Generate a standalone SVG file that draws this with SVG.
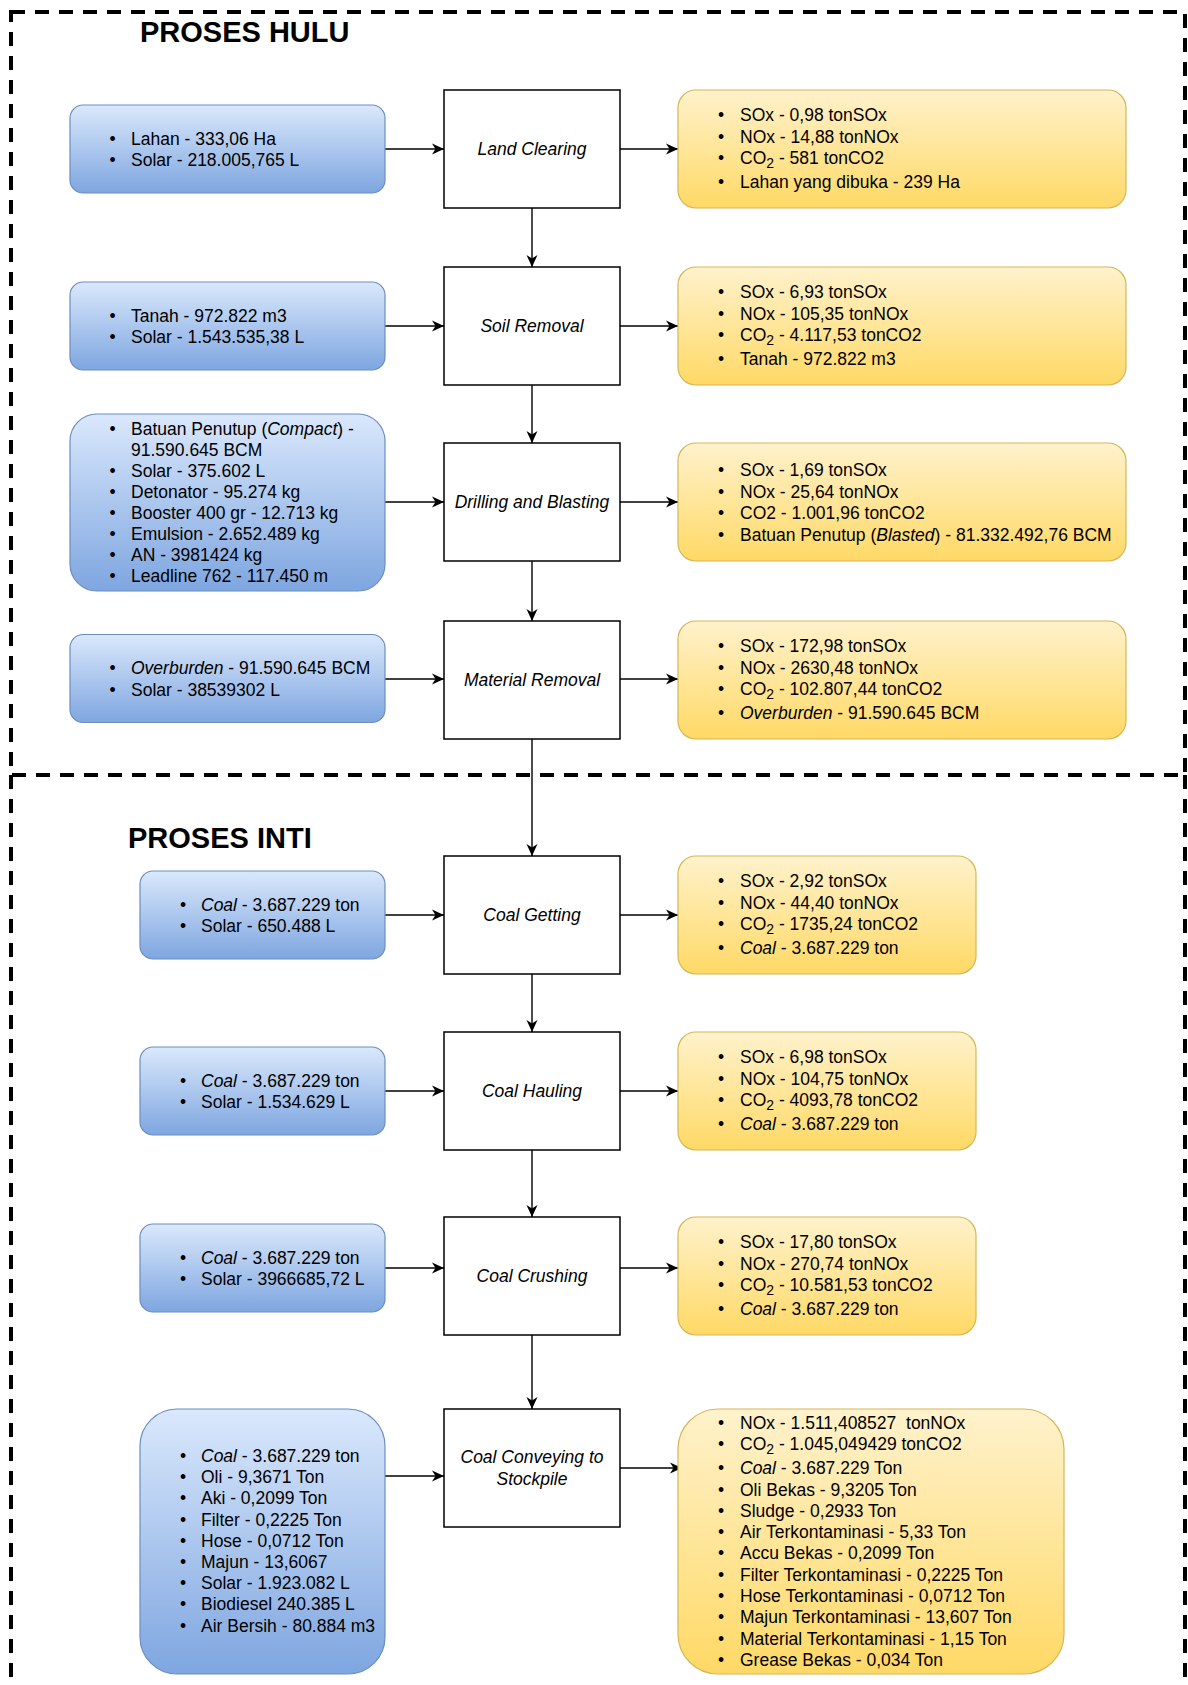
<svg xmlns="http://www.w3.org/2000/svg" width="1188" height="1685" viewBox="0 0 1188 1685">
<style>
.t{font-family:"Liberation Sans",Arial,Helvetica,sans-serif;font-size:17.5px;fill:#000}
.i{font-style:italic}
.h{font-family:"Liberation Sans",Arial,Helvetica,sans-serif;font-size:29px;font-weight:bold;fill:#000}
.pt{font-family:"Liberation Sans",Arial,Helvetica,sans-serif;font-size:17.5px;font-style:italic;text-anchor:middle;fill:#000}
.blue{fill:url(#gb);stroke:#6c8ebf;stroke-width:1.2}
.yel{fill:url(#gy);stroke:#d6b656;stroke-width:1.2}
.proc{fill:#fff;stroke:#000;stroke-width:1.5}
.c{fill:none;stroke:#000;stroke-width:1.4;marker-end:url(#arr)}
.frame{fill:none;stroke:#000;stroke-width:4;stroke-dasharray:14 10}
.sub{font-size:14px}
</style>
<defs>
<linearGradient id="gb" x1="0" y1="0" x2="0" y2="1"><stop offset="0" stop-color="#dae8fc"/><stop offset="1" stop-color="#7ea6e0"/></linearGradient>
<linearGradient id="gy" x1="0" y1="0" x2="0" y2="1"><stop offset="0" stop-color="#fff2cc"/><stop offset="1" stop-color="#ffd966"/></linearGradient>
<marker id="arr" markerUnits="userSpaceOnUse" markerWidth="13" markerHeight="12" refX="12" refY="6" orient="auto"><path d="M0,0.5 L12,6 L0,11.5 L3.5,6 Z" fill="#000"/></marker>
</defs>
<rect width="1188" height="1685" fill="#fff"/>

<g id="frames">
<rect class="frame" x="11" y="12" width="1174" height="763"/>
<path class="frame" d="M11,775 V1700 M1185,775 V1700"/>
</g>
<g id="titles">
<text class="h" x="140" y="42">PROSES HULU</text>
<text class="h" x="128" y="848">PROSES INTI</text>
</g>

<g id="connectors">
<path class="c" d="M385,149 H444"/>
<path class="c" d="M620,149 H678"/>
<path class="c" d="M532,208 V267"/>
<path class="c" d="M385,326 H444"/>
<path class="c" d="M620,326 H678"/>
<path class="c" d="M532,385 V443"/>
<path class="c" d="M385,502 H444"/>
<path class="c" d="M620,502 H678"/>
<path class="c" d="M532,561 V621"/>
<path class="c" d="M385,679 H444"/>
<path class="c" d="M620,679 H678"/>
<path class="c" d="M532,739 V856"/>
<path class="c" d="M385,915 H444"/>
<path class="c" d="M620,915 H678"/>
<path class="c" d="M532,974 V1032"/>
<path class="c" d="M385,1091 H444"/>
<path class="c" d="M620,1091 H678"/>
<path class="c" d="M532,1150 V1217"/>
<path class="c" d="M385,1268 H444"/>
<path class="c" d="M620,1268 H678"/>
<path class="c" d="M532,1335 V1409"/>
<path class="c" d="M385,1476 H444"/>
<path class="c" d="M620,1468 H682"/>
</g>

<!-- Row 1 -->
<g id="in-land-clearing">
<rect class="blue" x="70" y="105" width="315" height="88" rx="13"/>
<text class="t" y="144.5"><tspan x="109.5">•</tspan><tspan x="131">Lahan - 333,06 Ha</tspan></text>
<text class="t" y="166"><tspan x="109.5">•</tspan><tspan x="131">Solar - 218.005,765 L</tspan></text>
</g>
<g id="land-clearing">
<rect class="proc" x="444" y="90" width="176" height="118"/>
<text class="pt" x="532" y="155">Land Clearing</text>
</g>
<g id="out-land-clearing">
<rect class="yel" x="678" y="90" width="448" height="118" rx="18"/>
<text class="t" y="120.5"><tspan x="718">•</tspan><tspan x="740">SOx - 0,98 tonSOx</tspan></text>
<text class="t" y="142.5"><tspan x="718">•</tspan><tspan x="740">NOx - 14,88 tonNOx</tspan></text>
<text class="t" y="163.5"><tspan x="718">•</tspan><tspan x="740">CO</tspan><tspan class="sub" dy="4">2</tspan><tspan dy="-4"> - 581 tonCO2</tspan></text>
<text class="t" y="188"><tspan x="718">•</tspan><tspan x="740">Lahan yang dibuka - 239 Ha</tspan></text>
</g>

<!-- Row 2 -->
<g id="in-soil-removal">
<rect class="blue" x="70" y="282" width="315" height="88" rx="13"/>
<text class="t" y="321.5"><tspan x="109.5">•</tspan><tspan x="131">Tanah - 972.822 m3</tspan></text>
<text class="t" y="343"><tspan x="109.5">•</tspan><tspan x="131">Solar - 1.543.535,38 L</tspan></text>
</g>
<g id="soil-removal">
<rect class="proc" x="444" y="267" width="176" height="118"/>
<text class="pt" x="532" y="332">Soil Removal</text>
</g>
<g id="out-soil-removal">
<rect class="yel" x="678" y="267" width="448" height="118" rx="18"/>
<text class="t" y="297.5"><tspan x="718">•</tspan><tspan x="740">SOx - 6,93 tonSOx</tspan></text>
<text class="t" y="319.5"><tspan x="718">•</tspan><tspan x="740">NOx - 105,35 tonNOx</tspan></text>
<text class="t" y="340.5"><tspan x="718">•</tspan><tspan x="740">CO</tspan><tspan class="sub" dy="4">2</tspan><tspan dy="-4"> - 4.117,53 tonCO2</tspan></text>
<text class="t" y="365"><tspan x="718">•</tspan><tspan x="740">Tanah - 972.822 m3</tspan></text>
</g>

<!-- Row 3 -->
<g id="in-drilling">
<rect class="blue" x="70" y="414" width="315" height="177" rx="27"/>
<text class="t" y="435"><tspan x="109.5">•</tspan><tspan x="131">Batuan Penutup (</tspan><tspan class="i">Compact</tspan><tspan>) -</tspan></text>
<text class="t" x="131" y="456">91.590.645 BCM</text>
<text class="t" y="477"><tspan x="109.5">•</tspan><tspan x="131">Solar - 375.602 L</tspan></text>
<text class="t" y="498"><tspan x="109.5">•</tspan><tspan x="131">Detonator - 95.274 kg</tspan></text>
<text class="t" y="519"><tspan x="109.5">•</tspan><tspan x="131">Booster 400 gr - 12.713 kg</tspan></text>
<text class="t" y="540"><tspan x="109.5">•</tspan><tspan x="131">Emulsion - 2.652.489 kg</tspan></text>
<text class="t" y="561"><tspan x="109.5">•</tspan><tspan x="131">AN - 3981424 kg</tspan></text>
<text class="t" y="582"><tspan x="109.5">•</tspan><tspan x="131">Leadline 762 - 117.450 m</tspan></text>
</g>
<g id="drilling-blasting">
<rect class="proc" x="444" y="443" width="176" height="118"/>
<text class="pt" x="532" y="508">Drilling and Blasting</text>
</g>
<g id="out-drilling">
<rect class="yel" x="678" y="443" width="448" height="118" rx="18"/>
<text class="t" y="476"><tspan x="718">•</tspan><tspan x="740">SOx - 1,69 tonSOx</tspan></text>
<text class="t" y="497.5"><tspan x="718">•</tspan><tspan x="740">NOx - 25,64 tonNOx</tspan></text>
<text class="t" y="519"><tspan x="718">•</tspan><tspan x="740">CO2 - 1.001,96 tonCO2</tspan></text>
<text class="t" y="540.5"><tspan x="718">•</tspan><tspan x="740">Batuan Penutup (</tspan><tspan class="i">Blasted</tspan><tspan>) - 81.332.492,76 BCM</tspan></text>
</g>

<!-- Row 4 -->
<g id="in-material-removal">
<rect class="blue" x="70" y="634.5" width="315" height="88" rx="13"/>
<text class="t" y="674"><tspan x="109.5">•</tspan><tspan x="131" class="i">Overburden</tspan><tspan> - 91.590.645 BCM</tspan></text>
<text class="t" y="695.5"><tspan x="109.5">•</tspan><tspan x="131">Solar - 38539302 L</tspan></text>
</g>
<g id="material-removal">
<rect class="proc" x="444" y="621" width="176" height="118"/>
<text class="pt" x="532" y="686">Material Removal</text>
</g>
<g id="out-material-removal">
<rect class="yel" x="678" y="621" width="448" height="118" rx="18"/>
<text class="t" y="651.5"><tspan x="718">•</tspan><tspan x="740">SOx - 172,98 tonSOx</tspan></text>
<text class="t" y="673.5"><tspan x="718">•</tspan><tspan x="740">NOx - 2630,48 tonNOx</tspan></text>
<text class="t" y="694.5"><tspan x="718">•</tspan><tspan x="740">CO</tspan><tspan class="sub" dy="4">2</tspan><tspan dy="-4"> - 102.807,44 tonCO2</tspan></text>
<text class="t" y="719"><tspan x="718">•</tspan><tspan x="740" class="i">Overburden</tspan><tspan> - 91.590.645 BCM</tspan></text>
</g>

<!-- Row 5 -->
<g id="in-coal-getting">
<rect class="blue" x="140" y="871" width="245" height="88" rx="13"/>
<text class="t" y="910.5"><tspan x="180">•</tspan><tspan x="201" class="i">Coal</tspan><tspan> - 3.687.229 ton</tspan></text>
<text class="t" y="932"><tspan x="180">•</tspan><tspan x="201">Solar - 650.488 L</tspan></text>
</g>
<g id="coal-getting">
<rect class="proc" x="444" y="856" width="176" height="118"/>
<text class="pt" x="532" y="921">Coal Getting</text>
</g>
<g id="out-coal-getting">
<rect class="yel" x="678" y="856" width="298" height="118" rx="18"/>
<text class="t" y="886.5"><tspan x="718">•</tspan><tspan x="740">SOx - 2,92 tonSOx</tspan></text>
<text class="t" y="908.5"><tspan x="718">•</tspan><tspan x="740">NOx - 44,40 tonNOx</tspan></text>
<text class="t" y="929.5"><tspan x="718">•</tspan><tspan x="740">CO</tspan><tspan class="sub" dy="4">2</tspan><tspan dy="-4"> - 1735,24 tonCO2</tspan></text>
<text class="t" y="954"><tspan x="718">•</tspan><tspan x="740" class="i">Coal</tspan><tspan> - 3.687.229 ton</tspan></text>
</g>

<!-- Row 6 -->
<g id="in-coal-hauling">
<rect class="blue" x="140" y="1047" width="245" height="88" rx="13"/>
<text class="t" y="1086.5"><tspan x="180">•</tspan><tspan x="201" class="i">Coal</tspan><tspan> - 3.687.229 ton</tspan></text>
<text class="t" y="1108"><tspan x="180">•</tspan><tspan x="201">Solar - 1.534.629 L</tspan></text>
</g>
<g id="coal-hauling">
<rect class="proc" x="444" y="1032" width="176" height="118"/>
<text class="pt" x="532" y="1097">Coal Hauling</text>
</g>
<g id="out-coal-hauling">
<rect class="yel" x="678" y="1032" width="298" height="118" rx="18"/>
<text class="t" y="1062.5"><tspan x="718">•</tspan><tspan x="740">SOx - 6,98 tonSOx</tspan></text>
<text class="t" y="1084.5"><tspan x="718">•</tspan><tspan x="740">NOx - 104,75 tonNOx</tspan></text>
<text class="t" y="1105.5"><tspan x="718">•</tspan><tspan x="740">CO</tspan><tspan class="sub" dy="4">2</tspan><tspan dy="-4"> - 4093,78 tonCO2</tspan></text>
<text class="t" y="1130"><tspan x="718">•</tspan><tspan x="740" class="i">Coal</tspan><tspan> - 3.687.229 ton</tspan></text>
</g>

<!-- Row 7 -->
<g id="in-coal-crushing">
<rect class="blue" x="140" y="1224" width="245" height="88" rx="13"/>
<text class="t" y="1263.5"><tspan x="180">•</tspan><tspan x="201" class="i">Coal</tspan><tspan> - 3.687.229 ton</tspan></text>
<text class="t" y="1285"><tspan x="180">•</tspan><tspan x="201">Solar - 3966685,72 L</tspan></text>
</g>
<g id="coal-crushing">
<rect class="proc" x="444" y="1217" width="176" height="118"/>
<text class="pt" x="532" y="1282">Coal Crushing</text>
</g>
<g id="out-coal-crushing">
<rect class="yel" x="678" y="1217" width="298" height="118" rx="18"/>
<text class="t" y="1247.5"><tspan x="718">•</tspan><tspan x="740">SOx - 17,80 tonSOx</tspan></text>
<text class="t" y="1269.5"><tspan x="718">•</tspan><tspan x="740">NOx - 270,74 tonNOx</tspan></text>
<text class="t" y="1290.5"><tspan x="718">•</tspan><tspan x="740">CO</tspan><tspan class="sub" dy="4">2</tspan><tspan dy="-4"> - 10.581,53 tonCO2</tspan></text>
<text class="t" y="1315"><tspan x="718">•</tspan><tspan x="740" class="i">Coal</tspan><tspan> - 3.687.229 ton</tspan></text>
</g>

<!-- Row 8 -->
<g id="in-coal-conveying">
<rect class="blue" x="140" y="1409" width="245" height="265" rx="37"/>
<text class="t" y="1462"><tspan x="180">•</tspan><tspan x="201" class="i">Coal</tspan><tspan> - 3.687.229 ton</tspan></text>
<text class="t" y="1483.2"><tspan x="180">•</tspan><tspan x="201">Oli - 9,3671 Ton</tspan></text>
<text class="t" y="1504.4"><tspan x="180">•</tspan><tspan x="201">Aki - 0,2099 Ton</tspan></text>
<text class="t" y="1525.6"><tspan x="180">•</tspan><tspan x="201">Filter - 0,2225 Ton</tspan></text>
<text class="t" y="1546.8"><tspan x="180">•</tspan><tspan x="201">Hose - 0,0712 Ton</tspan></text>
<text class="t" y="1568"><tspan x="180">•</tspan><tspan x="201">Majun - 13,6067</tspan></text>
<text class="t" y="1589.2"><tspan x="180">•</tspan><tspan x="201">Solar - 1.923.082 L</tspan></text>
<text class="t" y="1610.4"><tspan x="180">•</tspan><tspan x="201">Biodiesel 240.385 L</tspan></text>
<text class="t" y="1631.6"><tspan x="180">•</tspan><tspan x="201">Air Bersih - 80.884 m3</tspan></text>
</g>
<g id="coal-conveying">
<rect class="proc" x="444" y="1409" width="176" height="118"/>
<text class="pt" x="532" y="1462.5">Coal Conveying to</text>
<text class="pt" x="532" y="1485">Stockpile</text>
</g>
<g id="out-coal-conveying">
<rect class="yel" x="678" y="1409" width="386" height="265" rx="40"/>
<text class="t" y="1428.5" xml:space="preserve"><tspan x="718">•</tspan><tspan x="740">NOx - 1.511,408527  tonNOx</tspan></text>
<text class="t" y="1449.5"><tspan x="718">•</tspan><tspan x="740">CO</tspan><tspan class="sub" dy="4">2</tspan><tspan dy="-4"> - 1.045,049429 tonCO2</tspan></text>
<text class="t" y="1474"><tspan x="718">•</tspan><tspan x="740" class="i">Coal</tspan><tspan> - 3.687.229 Ton</tspan></text>
<text class="t" y="1495.5"><tspan x="718">•</tspan><tspan x="740">Oli Bekas - 9,3205 Ton</tspan></text>
<text class="t" y="1516.8"><tspan x="718">•</tspan><tspan x="740">Sludge - 0,2933 Ton</tspan></text>
<text class="t" y="1538"><tspan x="718">•</tspan><tspan x="740">Air Terkontaminasi - 5,33 Ton</tspan></text>
<text class="t" y="1559.3"><tspan x="718">•</tspan><tspan x="740">Accu Bekas - 0,2099 Ton</tspan></text>
<text class="t" y="1580.6"><tspan x="718">•</tspan><tspan x="740">Filter Terkontaminasi - 0,2225 Ton</tspan></text>
<text class="t" y="1601.9"><tspan x="718">•</tspan><tspan x="740">Hose Terkontaminasi - 0,0712 Ton</tspan></text>
<text class="t" y="1623.2"><tspan x="718">•</tspan><tspan x="740">Majun Terkontaminasi - 13,607 Ton</tspan></text>
<text class="t" y="1644.5"><tspan x="718">•</tspan><tspan x="740">Material Terkontaminasi - 1,15 Ton</tspan></text>
<text class="t" y="1665.8"><tspan x="718">•</tspan><tspan x="740">Grease Bekas - 0,034 Ton</tspan></text>
</g>
</svg>
